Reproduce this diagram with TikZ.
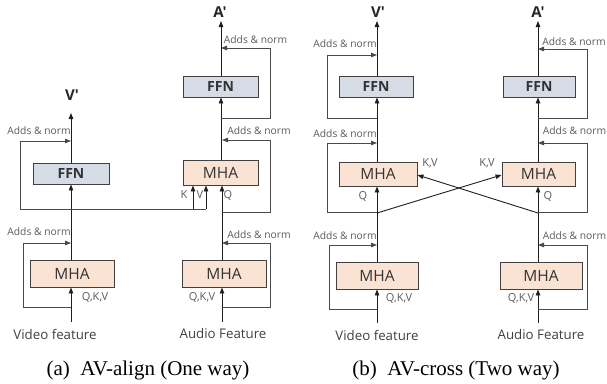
\documentclass[tikz,border=0pt]{standalone}
\usepackage{fontspec}
\setmainfont{Liberation Serif}
\newfontfamily\diag{Open Sans}
\usetikzlibrary{arrows.meta}
\definecolor{mhafill}{HTML}{FBE3D4}
\definecolor{ffnfill}{HTML}{D6DCE5}
\definecolor{boxc}{HTML}{404040}
\definecolor{linec}{HTML}{1E1E1E}
\definecolor{resc}{HTML}{4A4A4A}
\definecolor{labc}{HTML}{5A5A5A}
\tikzset{
  box/.style={draw=boxc, line width=0.9pt, inner sep=0pt, text=black!80},
  mha/.style={box, fill=mhafill, font=\diag\fontsize{15.5}{15.5}\selectfont},
  ffn/.style={box, fill=ffnfill, font=\diag\bfseries\fontsize{14}{14}\selectfont},
  arr/.style={draw=linec, line width=0.9pt, -{Triangle[length=6pt,width=4.5pt]}},
  res/.style={draw=resc, line width=0.9pt, -{Triangle[length=6pt,width=4.5pt]}},
  plain/.style={draw=resc, line width=0.9pt},
  lab/.style={text=labc, font=\diag\fontsize{10.3}{10.3}\selectfont, inner sep=0pt},
  small/.style={text=labc, font=\diag\fontsize{11}{11}\selectfont, inner sep=0pt},
  feat/.style={text=black!75, font=\diag\fontsize{13.3}{13.3}\selectfont, inner sep=0pt},
  outl/.style={text=black!85, font=\diag\bfseries\fontsize{15}{15}\selectfont, inner sep=0pt},
  captext/.style={font=\fontsize{21}{21}\selectfont, inner sep=0pt},
}
\begin{document}
\begin{tikzpicture}[x=1pt,y=-1pt]
\useasboundingbox (0,0) rectangle (607,383);
% ===== (a) =====
\node[mha, minimum width=84pt, minimum height=27pt] (vM1) at (72,273.5) {MHA};
\node[ffn, minimum width=76pt, minimum height=21pt] (vF) at (71,173.5) {FFN};
\node[mha, minimum width=84pt, minimum height=27pt] (aM1) at (224,273.5) {MHA};
\node[mha, minimum width=75pt, minimum height=25pt] (aM2) at (220.5,172.5) {MHA};
\node[ffn, minimum width=75pt, minimum height=21pt] (aF) at (220.5,86.5) {FFN};
\coordinate (vin) at (71,322);
\coordinate (vout) at (71,113);
\coordinate (ain) at (222,322);
\coordinate (aout) at (221,21);
% video path
\draw[arr] (vin) -- (vin |- vM1.south);
\coordinate (vj1) at (71,307);
\coordinate (vj1a) at (23,307);
\coordinate (vj1b) at (23,243);
\coordinate (vj1c) at (71,243);
\draw[res] (vj1) -- (vj1a) -- (vj1b) -- (vj1c);
\draw[arr] (vM1.north -| vin) -- (vF.south -| vin);
\coordinate (vj2a) at (20,209);
\coordinate (vj2b) at (20,141);
\coordinate (vj2c) at (71,141);
\coordinate (kx) at (193,209);
\coordinate (vx) at (206,209);
\draw[plain] (vx) -- (vj2a);
\draw[res] (vj2a) -- (vj2b) -- (vj2c);
\draw[arr] (kx) -- (kx |- aM2.south);
\draw[arr] (vx) -- (vx |- aM2.south);
\draw[arr] (vF.north -| vin) -- (vout);
\node[outl] (vp) at (72,95) {V'};
% audio path
\draw[arr] (ain) -- (ain |- aM1.south);
\coordinate (aj1) at (222,307);
\coordinate (aj1a) at (270,307);
\coordinate (aj1b) at (270,243);
\coordinate (aj1c) at (222,243);
\draw[res] (aj1) -- (aj1a) -- (aj1b) -- (aj1c);
\draw[arr] (aM1.north -| ain) -- (aM2.south -| ain);
\coordinate (aj2) at (222,212);
\coordinate (aj2a) at (270,212);
\coordinate (aj2b) at (270,140);
\coordinate (aj2c) at (222,140);
\draw[res] (aj2) -- (aj2a) -- (aj2b) -- (aj2c);
\draw[arr] (aM2.north -| aout) -- (aF.south -| aout);
\coordinate (aj3) at (221,118);
\coordinate (aj3a) at (270,118);
\coordinate (aj3b) at (270,48);
\coordinate (aj3c) at (221,48);
\draw[res] (aj3) -- (aj3a) -- (aj3b) -- (aj3c);
\draw[arr] (aF.north -| aout) -- (aout);
\node[outl] (ap) at (220,12) {A'};
% labels (a)
\node[lab] (l1) at (39,232) {Adds \& norm};
\node[lab] (l2) at (39,131) {Adds \& norm};
\node[lab] (l3) at (259,235) {Adds \& norm};
\node[lab] (l4) at (259,131) {Adds \& norm};
\node[lab] (l5) at (255.5,40) {Adds \& norm};
\node[small] (q1) at (95,297) {Q,K,V};
\node[small] (q2) at (202,297) {Q,K,V};
\node[small] (k1) at (184,195) {K};
\node[small] (v1) at (200,195) {V};
\node[small] (qa) at (228,195) {Q};
\node[feat] (f1) at (55,334) {Video feature};
\node[feat] (f2) at (223,334) {Audio Feature};
\node[captext] (ca) at (148,370) {(a)\ \ AV-align (One way)};
% ===== (b) =====
\node[mha, minimum width=82pt, minimum height=27pt] (bvM1) at (377,275.5) {MHA};
\node[mha, minimum width=78pt, minimum height=24pt] (bvM2) at (378,174) {MHA};
\node[ffn, minimum width=74pt, minimum height=21pt] (bvF) at (376,86.5) {FFN};
\node[mha, minimum width=82pt, minimum height=27pt] (baM1) at (541,275.5) {MHA};
\node[mha, minimum width=73pt, minimum height=24pt] (baM2) at (538.5,174) {MHA};
\node[ffn, minimum width=72pt, minimum height=21pt] (baF) at (539,86.5) {FFN};
\coordinate (bvin) at (377,323);
\coordinate (bvout) at (377,21);
\coordinate (bain) at (538,323);
\coordinate (baout) at (538,21);
% video
\draw[arr] (bvin) -- (bvin |- bvM1.south);
\coordinate (bv1) at (377,309);
\coordinate (bv1a) at (329,309);
\coordinate (bv1b) at (329,245);
\coordinate (bv1c) at (377,245);
\draw[res] (bv1) -- (bv1a) -- (bv1b) -- (bv1c);
\draw[arr] (bvM1.north -| bvin) -- (bvM2.south -| bvin);
\coordinate (bv2) at (377,212);
\coordinate (bv2a) at (327,212);
\coordinate (bv2b) at (327,143);
\coordinate (bv2c) at (377,143);
\draw[res] (bv2) -- (bv2a) -- (bv2b) -- (bv2c);
\draw[arr] (bvM2.north -| bvin) -- (bvF.south -| bvin);
\coordinate (bv3) at (377,118);
\coordinate (bv3a) at (327,118);
\coordinate (bv3b) at (327,55);
\coordinate (bv3c) at (377,55);
\draw[res] (bv3) -- (bv3a) -- (bv3b) -- (bv3c);
\draw[arr] (bvF.north -| bvin) -- (bvout);
\node[outl] (bvp) at (378,12) {V'};
% audio
\draw[arr] (bain) -- (bain |- baM1.south);
\coordinate (ba1) at (538,309);
\coordinate (ba1a) at (587,309);
\coordinate (ba1b) at (587,245);
\coordinate (ba1c) at (538,245);
\draw[res] (ba1) -- (ba1a) -- (ba1b) -- (ba1c);
\draw[arr] (baM1.north -| bain) -- (baM2.south -| bain);
\coordinate (ba2) at (538,212);
\coordinate (ba2a) at (587,212);
\coordinate (ba2b) at (587,143);
\coordinate (ba2c) at (538,143);
\draw[res] (ba2) -- (ba2a) -- (ba2b) -- (ba2c);
\draw[arr] (baM2.north -| bain) -- (baF.south -| bain);
\coordinate (ba3) at (538,118);
\coordinate (ba3a) at (587,118);
\coordinate (ba3b) at (587,49);
\coordinate (ba3c) at (538,49);
\draw[res] (ba3) -- (ba3a) -- (ba3b) -- (ba3c);
\draw[arr] (baF.north -| bain) -- (baout);
\node[outl] (bap) at (538,12) {A'};
% cross
\coordinate (bx1) at (377,213);
\coordinate (bx2) at (538,213);
\draw[arr] (bx1) -- (baM2.west |- 0,175);
\draw[arr] (bx2) -- (bvM2.east |- 0,175);
% labels (b)
\node[lab] (m1) at (345,236) {Adds \& norm};
\node[lab] (m2) at (345,134) {Adds \& norm};
\node[lab] (m3) at (345,44) {Adds \& norm};
\node[lab] (m4) at (574.5,236) {Adds \& norm};
\node[lab] (m5) at (574.5,131) {Adds \& norm};
\node[lab] (m6) at (574,42) {Adds \& norm};
\node[small] (bq1) at (399,298) {Q,K,V};
\node[small] (bq2) at (521,298) {Q,K,V};
\node[small] (bkv1) at (430,163) {K,V};
\node[small] (bkv2) at (487,163) {K,V};
\node[small] (bqv) at (363,196) {Q};
\node[small] (bqa) at (548,196) {Q};
\node[feat] (bf1) at (377,335) {Video feature};
\node[feat] (bf2) at (541,335) {Audio Feature};
\node[captext] (cb) at (456,370) {(b)\ \ AV-cross (Two way)};
\end{tikzpicture}
\end{document}
